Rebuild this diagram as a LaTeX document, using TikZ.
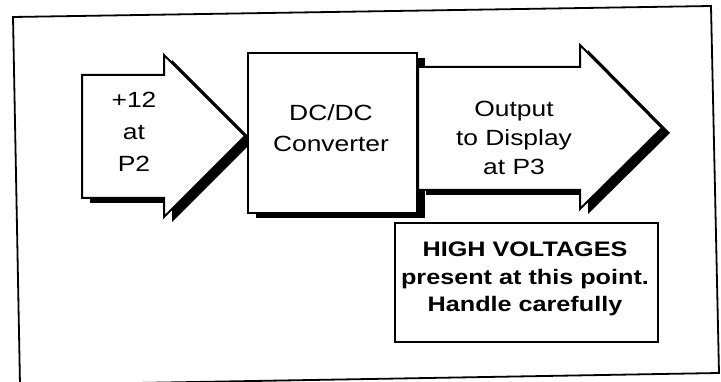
\documentclass[tikz,border=0pt]{standalone}
\usepackage{fontspec}
\setmainfont{Liberation Sans}
\newfontfamily\lblfont[FakeStretch=1.2]{Liberation Sans}
\begin{document}
\begin{tikzpicture}[x=1pt,y=-1pt,
  outline/.style={draw=black,line width=2pt,fill=white,line join=miter},
  shadowfill/.style={fill=black},
  frameline/.style={draw=black,line width=1.8pt},
  warnline/.style={draw=black,line width=1.3pt},
  lbl/.style={font=\lblfont\fontsize{22}{32}\selectfont,align=center,inner sep=0pt},
  warn/.style={font=\lblfont\bfseries\fontsize{21}{27.5}\selectfont,align=center,inner sep=0pt}]
\useasboundingbox (0,0) rectangle (721,382);
\fill[white] (0,0) rectangle (721,382);
% outer frame (slightly skewed, as scanned)
\draw[frameline] (13,17) -- (711,6) -- (719,373) -- (20,385) -- cycle;
% left arrow
\fill[shadowfill,shift={(8pt,-5pt)}] (82,75) -- (164,75) -- (164,55) -- (245,136) -- (164,217) -- (164,198) -- (82,198) -- cycle;
\draw[outline] (82,75) -- (164,75) -- (164,55) -- (245,136) -- (164,217) -- (164,198) -- (82,198) -- cycle;
% converter box
\fill[shadowfill,shift={(8pt,-5pt)}] (248,53) rectangle (417,213);
\draw[outline] (248,53) rectangle (417,213);
% right arrow
\fill[shadowfill,shift={(8pt,-5pt)}] (418,67) -- (580,67) -- (580,45) -- (662,128) -- (580,209) -- (580,190) -- (418,190) -- cycle;
\draw[outline] (418,67) -- (580,67) -- (580,45) -- (662,128) -- (580,209) -- (580,190) -- (418,190) -- cycle;
% warning box
\node[warnline,minimum width=263pt,minimum height=119pt,inner sep=0pt] (warnbox) at (526.5,282.5) {};
% texts
\node[lbl] (intext) at (134,132) {+12\\at\\P2};
\node[lbl,font=\lblfont\fontsize{22}{31}\selectfont] (convtext) at (331,128.5) {DC/DC\\Converter};
\node[lbl,font=\lblfont\fontsize{22}{29}\selectfont] (outtext) at (514,138) {Output\\to Display\\at P3};
\node[warn] (warntext) at (525,279) {HIGH VOLTAGES\\present at this point.\\Handle carefully};
\end{tikzpicture}
\end{document}
